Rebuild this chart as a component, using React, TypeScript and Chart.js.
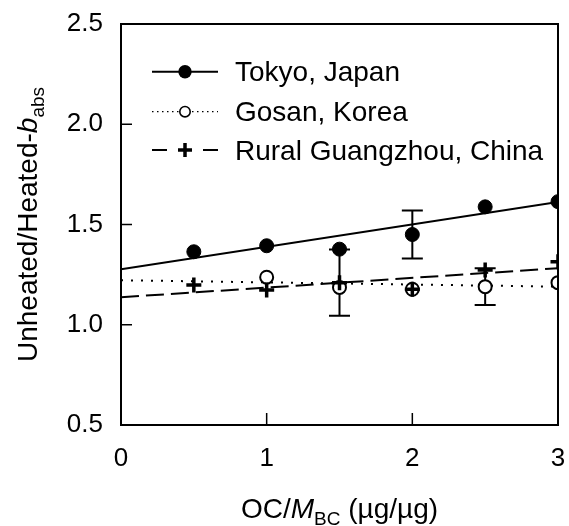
import React, { useEffect, useRef } from 'react';
import { Chart, registerables } from 'chart.js';

Chart.register(...registerables);

// ---- data ----
const seriesNames = ['Tokyo, Japan', 'Gosan, Korea', 'Rural Guangzhou, China'];

const tokyoX = [0.5, 1, 1.5, 2, 2.5, 3];
const tokyoValues = [1.364, 1.394, 1.377, 1.45, 1.588, 1.614];
const tokyoErrors = [0, 0, 0, 0.12, 0, 0];

const gosanX = [1, 1.5, 2, 2.5, 3];
const gosanValues = [1.237, 1.186, 1.177, 1.19, 1.21];
const gosanErrors = [0, 0, 0, 0.092, 0];

const guangzhouX = [0.5, 1, 1.5, 2, 2.5, 3];
const guangzhouValues = [1.198, 1.173, 1.21, 1.177, 1.273, 1.314];
const guangzhouErrors = [0, 0, 0.165, 0, 0, 0];

const fitX = [0, 3];
const tokyoFit = [1.277, 1.612];
const gosanFit = [1.222, 1.19];
const guangzhouFit = [1.137, 1.282];

const xTicks = [0, 1, 2, 3];
const yTicks = [0.5, 1.0, 1.5, 2.0, 2.5];

const FONT = '"Liberation Sans", Arial, Helvetica, sans-serif';

const toPoints = (xs: number[], ys: number[]) => xs.map((x, i) => ({ x, y: ys[i] }));

const errorSets = [
  { xs: tokyoX, ys: tokyoValues, es: tokyoErrors },
  { xs: gosanX, ys: gosanValues, es: gosanErrors },
  { xs: guangzhouX, ys: guangzhouValues, es: guangzhouErrors },
];

const decorPlugin = {
  id: 'decor',
  beforeDatasetsDraw(chart: any) {
    const ctx = chart.ctx;
    const xs = chart.scales.x;
    const ys = chart.scales.y;
    ctx.save();
    ctx.strokeStyle = '#000';
    ctx.lineWidth = 2;
    errorSets.forEach((s) => {
      s.xs.forEach((xv, i) => {
        const e = s.es[i];
        if (!e) return;
        const px = xs.getPixelForValue(xv);
        const top = ys.getPixelForValue(s.ys[i] + e);
        const bot = ys.getPixelForValue(s.ys[i] - e);
        ctx.beginPath();
        ctx.moveTo(px, top);
        ctx.lineTo(px, bot);
        ctx.moveTo(px - 10.5, top);
        ctx.lineTo(px + 10.5, top);
        ctx.moveTo(px - 10.5, bot);
        ctx.lineTo(px + 10.5, bot);
        ctx.stroke();
      });
    });
    ctx.restore();
  },
  afterDraw(chart: any) {
    const ctx = chart.ctx;
    const { left, right, top, bottom } = chart.chartArea;
    const xs = chart.scales.x;
    const ys = chart.scales.y;
    ctx.save();
    ctx.strokeStyle = '#000';
    ctx.fillStyle = '#000';
    // frame
    ctx.lineWidth = 2;
    ctx.strokeRect(left, top, right - left, bottom - top);
    // inner ticks
    ctx.lineWidth = 1.5;
    ctx.beginPath();
    yTicks.forEach((v) => {
      const py = ys.getPixelForValue(v);
      if (py <= top + 1 || py >= bottom - 1) return;
      ctx.moveTo(left, py);
      ctx.lineTo(left + 11, py);
    });
    xTicks.forEach((v) => {
      const px = xs.getPixelForValue(v);
      if (px <= left + 1 || px >= right - 1) return;
      ctx.moveTo(px, bottom);
      ctx.lineTo(px, bottom - 12);
    });
    ctx.stroke();

    // legend
    const lx0 = 152;
    const lx1 = 218;
    const lcx = 185;
    const rows = [71.7, 111.7, 150];
    ctx.lineWidth = 2;
    // Tokyo
    ctx.beginPath();
    ctx.moveTo(lx0, rows[0]);
    ctx.lineTo(lx1, rows[0]);
    ctx.stroke();
    ctx.beginPath();
    ctx.arc(lcx, rows[0], 6.7, 0, Math.PI * 2);
    ctx.fill();
    // Gosan
    ctx.save();
    ctx.lineWidth = 1.3;
    ctx.setLineDash([1.5, 3.5]);
    ctx.beginPath();
    ctx.moveTo(lx0, rows[1]);
    ctx.lineTo(lx1, rows[1]);
    ctx.stroke();
    ctx.restore();
    ctx.beginPath();
    ctx.arc(lcx, rows[1], 5.2, 0, Math.PI * 2);
    ctx.fillStyle = '#fff';
    ctx.fill();
    ctx.lineWidth = 1.6;
    ctx.stroke();
    ctx.fillStyle = '#000';
    // Guangzhou
    ctx.lineWidth = 2;
    ctx.beginPath();
    ctx.moveTo(lx0, rows[2]);
    ctx.lineTo(lx0 + 15, rows[2]);
    ctx.moveTo(lx1 - 15, rows[2]);
    ctx.lineTo(lx1, rows[2]);
    ctx.stroke();
    ctx.lineWidth = 3.5;
    ctx.beginPath();
    ctx.moveTo(lcx - 7, rows[2]);
    ctx.lineTo(lcx + 7, rows[2]);
    ctx.moveTo(lcx, rows[2] - 7);
    ctx.lineTo(lcx, rows[2] + 7);
    ctx.stroke();

    ctx.font = `28px ${FONT}`;
    ctx.textAlign = 'left';
    ctx.textBaseline = 'alphabetic';
    seriesNames.forEach((name, i) => {
      ctx.fillText(name, 235, rows[i] + 9.5);
    });

    // x title: OC/M_BC (µg/µg)
    const tSize = 28;
    const subSize = 19;
    const parts = [
      { t: 'OC/', f: `${tSize}px ${FONT}`, dy: 0 },
      { t: 'M', f: `italic ${tSize}px ${FONT}`, dy: 0 },
      { t: 'BC', f: `${subSize}px ${FONT}`, dy: 7 },
      { t: ' (\u00b5g/\u00b5g)', f: `${tSize}px ${FONT}`, dy: 0 },
    ];
    let total = 0;
    parts.forEach((p) => {
      ctx.font = p.f;
      total += ctx.measureText(p.t).width;
    });
    let cx = (left + right) / 2 - total / 2;
    const by = 518;
    parts.forEach((p) => {
      ctx.font = p.f;
      ctx.fillText(p.t, cx, by + p.dy);
      cx += ctx.measureText(p.t).width;
    });

    // y title: Unheated/Heated-b_abs
    const yparts = [
      { t: 'Unheated/Heated-', f: `28px ${FONT}`, dy: 0 },
      { t: 'b', f: `italic 28px ${FONT}`, dy: 0 },
      { t: 'abs', f: `19px ${FONT}`, dy: 7 },
    ];
    let ytotal = 0;
    yparts.forEach((p) => {
      ctx.font = p.f;
      ytotal += ctx.measureText(p.t).width;
    });
    ctx.translate(37, (top + bottom) / 2);
    ctx.rotate(-Math.PI / 2);
    let yx = -ytotal / 2;
    yparts.forEach((p) => {
      ctx.font = p.f;
      ctx.fillText(p.t, yx, p.dy);
      yx += ctx.measureText(p.t).width;
    });
    ctx.restore();
  },
};

export default function App() {
  const ref = useRef<HTMLCanvasElement | null>(null);

  useEffect(() => {
    document.body.style.margin = '0';
    const canvas = ref.current;
    if (!canvas) return;
    const chart = new Chart(canvas, {
      type: 'scatter',
      data: {
        datasets: [
          {
            label: seriesNames[0],
            data: toPoints(tokyoX, tokyoValues),
            showLine: false,
            pointStyle: 'circle',
            pointRadius: 7,
            pointBorderWidth: 1,
            backgroundColor: '#000',
            borderColor: '#000',
            order: 2,
          },
          {
            label: seriesNames[1],
            data: toPoints(gosanX, gosanValues),
            showLine: false,
            pointStyle: 'circle',
            pointRadius: 6.5,
            pointBorderWidth: 2,
            backgroundColor: '#fff',
            borderColor: '#000',
            order: 1,
          },
          {
            label: seriesNames[2],
            data: toPoints(guangzhouX, guangzhouValues),
            showLine: false,
            pointStyle: 'cross',
            pointRadius: 7.5,
            pointBorderWidth: 3.5,
            backgroundColor: '#000',
            borderColor: '#000',
            order: 0,
          },
          {
            label: 'Tokyo fit',
            data: toPoints(fitX, tokyoFit),
            showLine: true,
            pointRadius: 0,
            borderColor: '#000',
            borderWidth: 2,
            order: 10,
          },
          {
            label: 'Gosan fit',
            data: toPoints(fitX, gosanFit),
            showLine: true,
            pointRadius: 0,
            borderColor: '#000',
            borderWidth: 2,
            borderDash: [2, 8],
            order: 10,
          },
          {
            label: 'Guangzhou fit',
            data: toPoints(fitX, guangzhouFit),
            showLine: true,
            pointRadius: 0,
            borderColor: '#000',
            borderWidth: 2,
            borderDash: [18, 7],
            order: 10,
          },
        ],
      },
      options: {
        animation: false,
        responsive: false,
        devicePixelRatio: 1,
        events: [],
        layout: { padding: { top: 24, right: 7.3, left: 0, bottom: 0 } },
        plugins: {
          legend: { display: false },
          tooltip: { enabled: false },
        },
        scales: {
          x: {
            type: 'linear',
            min: 0,
            max: 3,
            afterBuildTicks: (s: any) => {
              s.ticks = xTicks.map((v) => ({ value: v }));
            },
            afterFit: (s: any) => {
              s.height = 101;
              s.paddingLeft = 0;
              s.paddingRight = 0;
            },
            grid: { display: false, drawTicks: false, tickLength: 0 },
            border: { display: false },
            ticks: {
              color: '#000',
              font: { family: FONT, size: 26 },
              padding: 18,
              maxRotation: 0,
              autoSkip: false,
              callback: (v: any) => String(v),
            },
          },
          y: {
            type: 'linear',
            min: 0.5,
            max: 2.5,
            afterBuildTicks: (s: any) => {
              s.ticks = yTicks.map((v) => ({ value: v }));
            },
            afterFit: (s: any) => {
              s.width = 121;
              s.paddingTop = 0;
              s.paddingBottom = 0;
            },
            grid: { display: false, drawTicks: false, tickLength: 0 },
            border: { display: false },
            ticks: {
              color: '#000',
              font: { family: FONT, size: 26 },
              padding: 18,
              autoSkip: false,
              callback: (v: any) => Number(v).toFixed(1),
            },
          },
        },
      },
      plugins: [decorPlugin],
    });
    return () => chart.destroy();
  }, []);

  return (
    <div style={{ position: 'absolute', left: 0, top: 0, width: 569, height: 526, background: '#fff' }}>
      <canvas ref={ref} width={569} height={526} style={{ width: 569, height: 526, display: 'block' }} />
    </div>
  );
}
